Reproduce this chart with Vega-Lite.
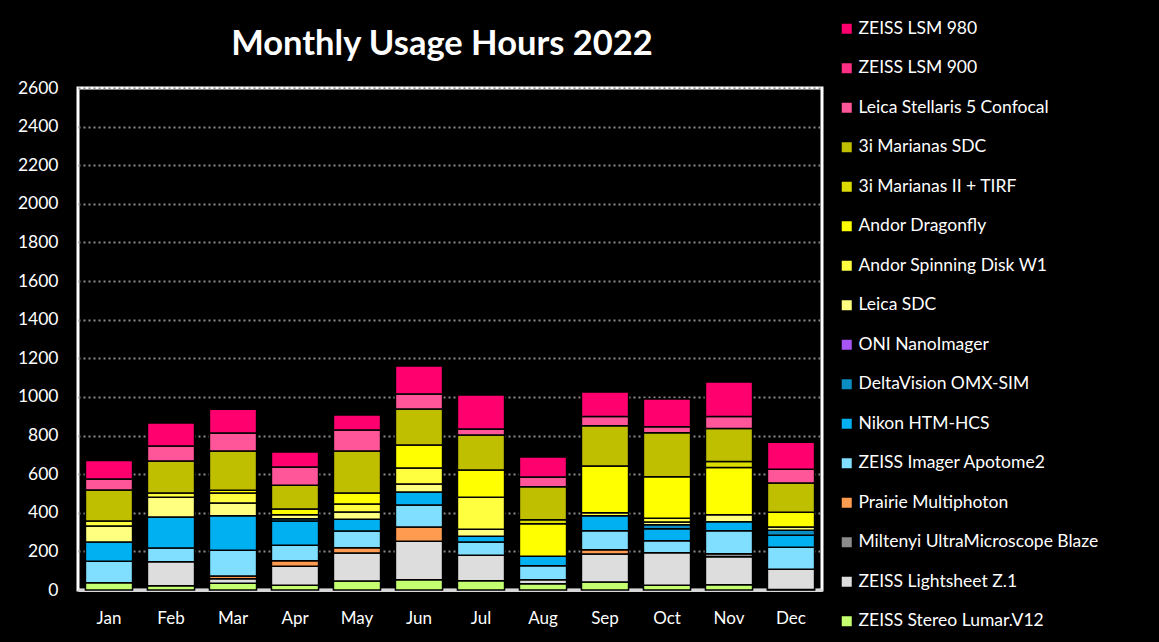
{
  "$schema": "https://vega.github.io/schema/vega-lite/v6.json",
  "width": 744,
  "height": 502,
  "autosize": "none",
  "padding": {"left": 78, "top": 88, "right": 337, "bottom": 52},
  "background": "black",
  "title": {
    "text": "Monthly Usage Hours 2022",
    "color": "white",
    "font": "Lato",
    "fontSize": 34.5,
    "fontWeight": "bold",
    "anchor": "middle",
    "baseline": "alphabetic",
    "dx": -8,
    "offset": -69
  },
  "config": {
    "view": {"stroke": "white", "strokeWidth": 3},
    "font": "Lato"
  },
  "data": {
    "values": [
      {"month": "Jan", "instrument": "ZEISS Stereo Lumar.V12", "hours": 37},
      {"month": "Jan", "instrument": "ZEISS Imager Apotome2", "hours": 112},
      {"month": "Jan", "instrument": "Nikon HTM-HCS", "hours": 99},
      {"month": "Jan", "instrument": "Leica SDC", "hours": 83},
      {"month": "Jan", "instrument": "Andor Spinning Disk W1", "hours": 26},
      {"month": "Jan", "instrument": "3i Marianas SDC", "hours": 161},
      {"month": "Jan", "instrument": "Leica Stellaris 5 Confocal", "hours": 57},
      {"month": "Jan", "instrument": "ZEISS LSM 980", "hours": 96},

      {"month": "Feb", "instrument": "ZEISS Stereo Lumar.V12", "hours": 22},
      {"month": "Feb", "instrument": "ZEISS Lightsheet Z.1", "hours": 124},
      {"month": "Feb", "instrument": "ZEISS Imager Apotome2", "hours": 71},
      {"month": "Feb", "instrument": "Nikon HTM-HCS", "hours": 161},
      {"month": "Feb", "instrument": "Leica SDC", "hours": 103},
      {"month": "Feb", "instrument": "Andor Spinning Disk W1", "hours": 21},
      {"month": "Feb", "instrument": "3i Marianas SDC", "hours": 166},
      {"month": "Feb", "instrument": "Leica Stellaris 5 Confocal", "hours": 78},
      {"month": "Feb", "instrument": "ZEISS LSM 980", "hours": 119},

      {"month": "Mar", "instrument": "ZEISS Stereo Lumar.V12", "hours": 35},
      {"month": "Mar", "instrument": "ZEISS Lightsheet Z.1", "hours": 23},
      {"month": "Mar", "instrument": "Prairie Multiphoton", "hours": 15},
      {"month": "Mar", "instrument": "ZEISS Imager Apotome2", "hours": 133},
      {"month": "Mar", "instrument": "Nikon HTM-HCS", "hours": 179},
      {"month": "Mar", "instrument": "Leica SDC", "hours": 65},
      {"month": "Mar", "instrument": "Andor Spinning Disk W1", "hours": 52},
      {"month": "Mar", "instrument": "Andor Dragonfly", "hours": 15},
      {"month": "Mar", "instrument": "3i Marianas SDC", "hours": 203},
      {"month": "Mar", "instrument": "Leica Stellaris 5 Confocal", "hours": 93},
      {"month": "Mar", "instrument": "ZEISS LSM 980", "hours": 123},

      {"month": "Apr", "instrument": "ZEISS Stereo Lumar.V12", "hours": 25},
      {"month": "Apr", "instrument": "ZEISS Lightsheet Z.1", "hours": 98},
      {"month": "Apr", "instrument": "Prairie Multiphoton", "hours": 28},
      {"month": "Apr", "instrument": "ZEISS Imager Apotome2", "hours": 81},
      {"month": "Apr", "instrument": "Nikon HTM-HCS", "hours": 125},
      {"month": "Apr", "instrument": "DeltaVision OMX-SIM", "hours": 12},
      {"month": "Apr", "instrument": "Leica SDC", "hours": 21},
      {"month": "Apr", "instrument": "Andor Dragonfly", "hours": 29},
      {"month": "Apr", "instrument": "3i Marianas SDC", "hours": 124},
      {"month": "Apr", "instrument": "Leica Stellaris 5 Confocal", "hours": 94},
      {"month": "Apr", "instrument": "ZEISS LSM 980", "hours": 78},

      {"month": "May", "instrument": "ZEISS Stereo Lumar.V12", "hours": 46},
      {"month": "May", "instrument": "ZEISS Lightsheet Z.1", "hours": 145},
      {"month": "May", "instrument": "Prairie Multiphoton", "hours": 28},
      {"month": "May", "instrument": "ZEISS Imager Apotome2", "hours": 86},
      {"month": "May", "instrument": "Nikon HTM-HCS", "hours": 62},
      {"month": "May", "instrument": "Leica SDC", "hours": 37},
      {"month": "May", "instrument": "Andor Spinning Disk W1", "hours": 41},
      {"month": "May", "instrument": "Andor Dragonfly", "hours": 57},
      {"month": "May", "instrument": "3i Marianas SDC", "hours": 218},
      {"month": "May", "instrument": "Leica Stellaris 5 Confocal", "hours": 109},
      {"month": "May", "instrument": "ZEISS LSM 980", "hours": 77},

      {"month": "Jun", "instrument": "ZEISS Stereo Lumar.V12", "hours": 53},
      {"month": "Jun", "instrument": "ZEISS Lightsheet Z.1", "hours": 200},
      {"month": "Jun", "instrument": "Prairie Multiphoton", "hours": 73},
      {"month": "Jun", "instrument": "ZEISS Imager Apotome2", "hours": 114},
      {"month": "Jun", "instrument": "Nikon HTM-HCS", "hours": 67},
      {"month": "Jun", "instrument": "Leica SDC", "hours": 42},
      {"month": "Jun", "instrument": "Andor Spinning Disk W1", "hours": 83},
      {"month": "Jun", "instrument": "Andor Dragonfly", "hours": 119},
      {"month": "Jun", "instrument": "3i Marianas SDC", "hours": 186},
      {"month": "Jun", "instrument": "Leica Stellaris 5 Confocal", "hours": 78},
      {"month": "Jun", "instrument": "ZEISS LSM 980", "hours": 145},

      {"month": "Jul", "instrument": "ZEISS Stereo Lumar.V12", "hours": 48},
      {"month": "Jul", "instrument": "ZEISS Lightsheet Z.1", "hours": 132},
      {"month": "Jul", "instrument": "ZEISS Imager Apotome2", "hours": 68},
      {"month": "Jul", "instrument": "Nikon HTM-HCS", "hours": 31},
      {"month": "Jul", "instrument": "Leica SDC", "hours": 36},
      {"month": "Jul", "instrument": "Andor Spinning Disk W1", "hours": 166},
      {"month": "Jul", "instrument": "Andor Dragonfly", "hours": 140},
      {"month": "Jul", "instrument": "3i Marianas SDC", "hours": 182},
      {"month": "Jul", "instrument": "Leica Stellaris 5 Confocal", "hours": 31},
      {"month": "Jul", "instrument": "ZEISS LSM 980", "hours": 176},

      {"month": "Aug", "instrument": "ZEISS Stereo Lumar.V12", "hours": 32},
      {"month": "Aug", "instrument": "ZEISS Lightsheet Z.1", "hours": 21},
      {"month": "Aug", "instrument": "ZEISS Imager Apotome2", "hours": 72},
      {"month": "Aug", "instrument": "Nikon HTM-HCS", "hours": 50},
      {"month": "Aug", "instrument": "Andor Dragonfly", "hours": 168},
      {"month": "Aug", "instrument": "3i Marianas II + TIRF", "hours": 21},
      {"month": "Aug", "instrument": "3i Marianas SDC", "hours": 171},
      {"month": "Aug", "instrument": "Leica Stellaris 5 Confocal", "hours": 50},
      {"month": "Aug", "instrument": "ZEISS LSM 980", "hours": 104},

      {"month": "Sep", "instrument": "ZEISS Stereo Lumar.V12", "hours": 42},
      {"month": "Sep", "instrument": "ZEISS Lightsheet Z.1", "hours": 144},
      {"month": "Sep", "instrument": "Prairie Multiphoton", "hours": 22},
      {"month": "Sep", "instrument": "ZEISS Imager Apotome2", "hours": 99},
      {"month": "Sep", "instrument": "Nikon HTM-HCS", "hours": 78},
      {"month": "Sep", "instrument": "Andor Spinning Disk W1", "hours": 15},
      {"month": "Sep", "instrument": "Andor Dragonfly", "hours": 242},
      {"month": "Sep", "instrument": "3i Marianas SDC", "hours": 209},
      {"month": "Sep", "instrument": "Leica Stellaris 5 Confocal", "hours": 47},
      {"month": "Sep", "instrument": "ZEISS LSM 980", "hours": 128},

      {"month": "Oct", "instrument": "ZEISS Stereo Lumar.V12", "hours": 25},
      {"month": "Oct", "instrument": "ZEISS Lightsheet Z.1", "hours": 168},
      {"month": "Oct", "instrument": "ZEISS Imager Apotome2", "hours": 62},
      {"month": "Oct", "instrument": "Nikon HTM-HCS", "hours": 62},
      {"month": "Oct", "instrument": "DeltaVision OMX-SIM", "hours": 21},
      {"month": "Oct", "instrument": "Leica SDC", "hours": 14},
      {"month": "Oct", "instrument": "Andor Spinning Disk W1", "hours": 20},
      {"month": "Oct", "instrument": "Andor Dragonfly", "hours": 215},
      {"month": "Oct", "instrument": "3i Marianas SDC", "hours": 228},
      {"month": "Oct", "instrument": "Leica Stellaris 5 Confocal", "hours": 31},
      {"month": "Oct", "instrument": "ZEISS LSM 980", "hours": 143},

      {"month": "Nov", "instrument": "ZEISS Stereo Lumar.V12", "hours": 27},
      {"month": "Nov", "instrument": "ZEISS Lightsheet Z.1", "hours": 145},
      {"month": "Nov", "instrument": "Miltenyi UltraMicroscope Blaze", "hours": 16},
      {"month": "Nov", "instrument": "ZEISS Imager Apotome2", "hours": 119},
      {"month": "Nov", "instrument": "Nikon HTM-HCS", "hours": 47},
      {"month": "Nov", "instrument": "Leica SDC", "hours": 36},
      {"month": "Nov", "instrument": "Andor Dragonfly", "hours": 244},
      {"month": "Nov", "instrument": "3i Marianas II + TIRF", "hours": 31},
      {"month": "Nov", "instrument": "3i Marianas SDC", "hours": 171},
      {"month": "Nov", "instrument": "Leica Stellaris 5 Confocal", "hours": 62},
      {"month": "Nov", "instrument": "ZEISS LSM 980", "hours": 179},

      {"month": "Dec", "instrument": "ZEISS Stereo Lumar.V12", "hours": 3},
      {"month": "Dec", "instrument": "ZEISS Lightsheet Z.1", "hours": 105},
      {"month": "Dec", "instrument": "ZEISS Imager Apotome2", "hours": 114},
      {"month": "Dec", "instrument": "Nikon HTM-HCS", "hours": 62},
      {"month": "Dec", "instrument": "DeltaVision OMX-SIM", "hours": 26},
      {"month": "Dec", "instrument": "Leica SDC", "hours": 16},
      {"month": "Dec", "instrument": "Andor Dragonfly", "hours": 77},
      {"month": "Dec", "instrument": "3i Marianas SDC", "hours": 151},
      {"month": "Dec", "instrument": "Leica Stellaris 5 Confocal", "hours": 72},
      {"month": "Dec", "instrument": "ZEISS LSM 980", "hours": 139}
    ]
  },
  "transform": [
    {
      "calculate": "indexof(['ZEISS Stereo Lumar.V12', 'ZEISS Lightsheet Z.1', 'Miltenyi UltraMicroscope Blaze', 'Prairie Multiphoton', 'ZEISS Imager Apotome2', 'Nikon HTM-HCS', 'DeltaVision OMX-SIM', 'ONI NanoImager', 'Leica SDC', 'Andor Spinning Disk W1', 'Andor Dragonfly', '3i Marianas II + TIRF', '3i Marianas SDC', 'Leica Stellaris 5 Confocal', 'ZEISS LSM 900', 'ZEISS LSM 980'], datum.instrument)",
      "as": "stackRank"
    }
  ],
  "mark": {"type": "bar", "stroke": "black", "strokeWidth": 1.5},
  "encoding": {
    "x": {
      "field": "month",
      "type": "nominal",
      "sort": ["Jan", "Feb", "Mar", "Apr", "May", "Jun", "Jul", "Aug", "Sep", "Oct", "Nov", "Dec"],
      "scale": {"paddingInner": 0.24, "paddingOuter": 0.12},
      "axis": {
        "title": null,
        "labelAngle": 0,
        "labelColor": "white",
        "labelFontSize": 17,
        "labelPadding": 20,
        "ticks": false,
        "domainColor": "#D9D9D9",
        "domainWidth": 3
      }
    },
    "y": {
      "field": "hours",
      "type": "quantitative",
      "stack": "zero",
      "scale": {"domain": [0, 2600], "nice": false},
      "axis": {
        "title": null,
        "format": "d",
        "values": [0, 200, 400, 600, 800, 1000, 1200, 1400, 1600, 1800, 2000, 2200, 2400, 2600],
        "labelColor": "white",
        "labelFontSize": 17.5,
        "labelPadding": 20,
        "ticks": false,
        "domain": false,
        "gridColor": "#8C8C8C",
        "gridDash": [2, 3],
        "gridWidth": 2
      }
    },
    "order": {"field": "stackRank", "type": "quantitative", "sort": "ascending"},
    "color": {
      "field": "instrument",
      "type": "nominal",
      "scale": {
        "domain": [
          "ZEISS LSM 980", "ZEISS LSM 900", "Leica Stellaris 5 Confocal", "3i Marianas SDC",
          "3i Marianas II + TIRF", "Andor Dragonfly", "Andor Spinning Disk W1", "Leica SDC",
          "ONI NanoImager", "DeltaVision OMX-SIM", "Nikon HTM-HCS", "ZEISS Imager Apotome2",
          "Prairie Multiphoton", "Miltenyi UltraMicroscope Blaze", "ZEISS Lightsheet Z.1",
          "ZEISS Stereo Lumar.V12"
        ],
        "range": [
          "#FF006E", "#FF2F86", "#FF5599", "#BFBF00",
          "#DCDC00", "#FFFF00", "#FFFF40", "#FFFF80",
          "#A855F7", "#0A8DC3", "#00B0F0", "#80DFFF",
          "#FF9B50", "#8C8C8C", "#DDDDDD", "#C4FF70"
        ]
      },
      "legend": {
        "orient": "none",
        "legendX": 760,
        "legendY": -68,
        "title": null,
        "labelColor": "white",
        "labelFontSize": 17.5,
        "labelOffset": 3,
        "labelLimit": 400,
        "symbolType": "square",
        "symbolSize": 100,
        "symbolStrokeWidth": 0,
        "rowPadding": 20.5
      }
    }
  }
}
